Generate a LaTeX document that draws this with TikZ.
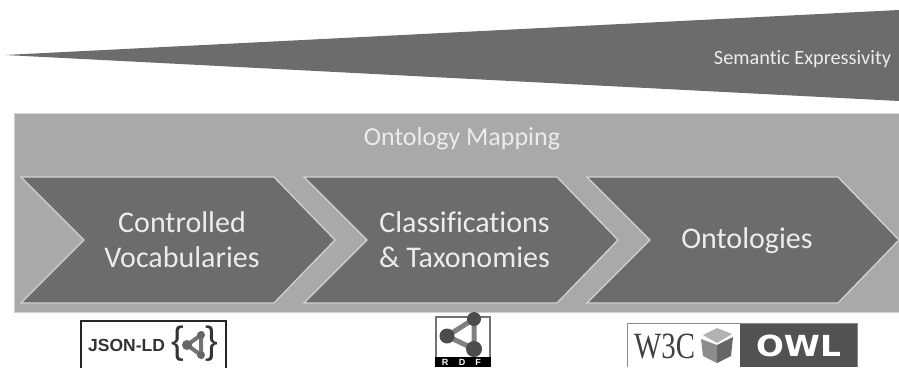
\documentclass[tikz,border=0pt]{standalone}
\usepackage{fontspec}
\setmainfont[Ligatures=NoCommon]{Carlito}
\newfontfamily\logofont{Liberation Sans}
\newfontfamily\wfont{Liberation Serif}
\newfontfamily\owlfont{DejaVu Sans}
\definecolor{dark}{HTML}{6C6C6C}
\definecolor{band}{HTML}{A9A9A9}
\definecolor{edge}{HTML}{D2D2D2}
\definecolor{txt}{HTML}{ECECEC}
\tikzset{
  chev/.style={fill=dark,draw=edge,line width=1.3pt,line join=miter},
  chevtext/.style={text=txt,font=\fontsize{30}{35}\selectfont,align=center,inner sep=0pt},
  linkline/.style={line width=3.2pt,draw=#1},
}
\begin{document}
\begin{tikzpicture}[x=1pt,y=-1pt]
\useasboundingbox (0,0) rectangle (899,367);
\clip (0,0) rectangle (899,367);
% wedge
\fill[dark] (5,55) -- (899,10) -- (899,101) -- cycle;
\node[text=txt,font=\fontsize{20.3}{22}\selectfont,inner sep=0pt] (sem) at (802.5,59) {Semantic Expressivity};
% band
\fill[band] (14,113) rectangle (899,312);
\draw[edge,line width=1pt] (14,312) -- (14,113) -- (899,113);
\draw[edge,line width=1pt] (14,312) -- (899,312);
\node[text=txt,font=\fontsize{26}{28}\selectfont,inner sep=0pt] (map) at (462,139) {Ontology Mapping};
% chevrons
\draw[chev] (21,177) -- (274,177) -- (335,240) -- (274,303) -- (21,303) -- (84,240) -- cycle;
\draw[chev] (304,177) -- (557,177) -- (618,240) -- (557,303) -- (304,303) -- (367,240) -- cycle;
\draw[chev] (587,177) -- (838,177) -- (899,240) -- (838,303) -- (587,303) -- (650,240) -- cycle;
\node[chevtext] (cv) at (182,240) {Controlled\\Vocabularies};
\node[chevtext] (ct) at (464.5,240) {Classifications\\\& Taxonomies};
\node[chevtext] (on) at (747,241) {Ontologies};
% JSON-LD logo
\draw[black!85,line width=1.6pt] (81,380) -- (81,321) -- (226,321) -- (226,380);
\node[font=\logofont\bfseries\fontsize{17.5}{18}\selectfont,text=black!80,inner sep=0pt,anchor=west] (jl) at (88,345) {JSON-LD};
\node[font=\logofont\fontsize{38}{38}\selectfont,text=black!80,inner sep=0pt] (jb1) at (178,344) {\{};
\node[font=\logofont\fontsize{38}{38}\selectfont,text=black!80,inner sep=0pt] (jb2) at (212,344) {\}};
\coordinate (ja) at (201,335);
\coordinate (jc) at (187,345);
\coordinate (jd) at (201,355);
\draw[linkline=black!55,line width=4pt] (ja) -- (jc) -- (jd) -- cycle;
\fill[black!60] (ja) circle (4) (jc) circle (5) (jd) circle (4);
% RDF logo
\draw[black!55,line width=1.3pt] (436,367) -- (436,317) -- (490,317) -- (490,367);
\fill[black] (435,357) rectangle (491,367);
\node[font=\logofont\bfseries\fontsize{9}{10}\selectfont,text=white,inner sep=0pt] (r) at (445,362) {R};
\node[font=\logofont\bfseries\fontsize{9}{10}\selectfont,text=white,inner sep=0pt] (d) at (462,362) {D};
\node[font=\logofont\bfseries\fontsize{9}{10}\selectfont,text=white,inner sep=0pt] (f) at (478,362) {F};
\coordinate (ra) at (474,319);
\coordinate (rb) at (447,336);
\coordinate (rc) at (474,349);
\draw[draw=black!50,line width=5pt] (ra) -- (rb) -- (rc) -- cycle;
\fill[black!70] (ra) circle (7) (rb) circle (7.5) (rc) circle (8);
% W3C OWL logo
\fill[white] (627,323) rectangle (740,367);
\fill[black!68] (740,323) rectangle (857,367);
\draw[black!45,line width=1pt] (627,367) -- (627,323) -- (857,323) -- (857,367);
\node[font=\wfont\fontsize{37}{37}\selectfont,text=black!75,inner sep=0pt,anchor=west,xscale=0.78] (w3c) at (634,347) {W3C};
\fill[black!45] (701,339) -- (717,345) -- (717,363) -- (703,356) -- cycle;
\fill[black!60] (717,345) -- (733,337) -- (731,356) -- (717,363) -- cycle;
\fill[black!30] (703,335) -- (717,328) -- (732,334) -- (717,343) -- cycle;
\node[font=\owlfont\bfseries\fontsize{29}{29}\selectfont,text=white,inner sep=0pt,xscale=1.13] (owl) at (798.5,346) {OWL};
\end{tikzpicture}
\end{document}
